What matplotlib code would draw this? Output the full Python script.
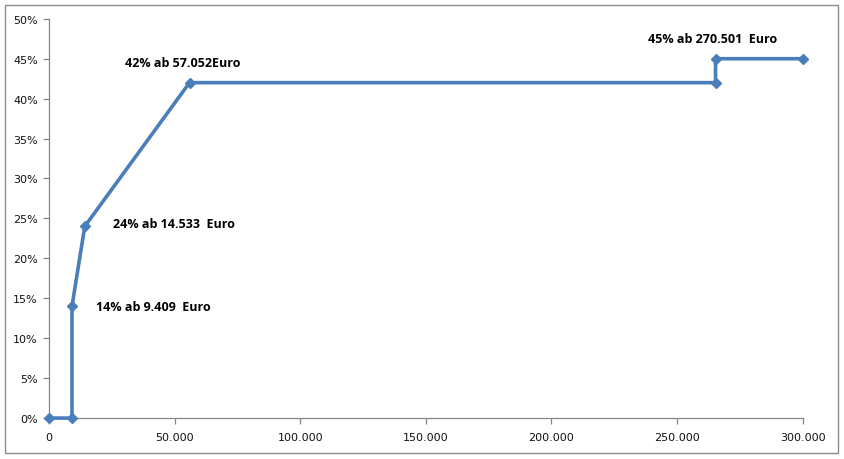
import matplotlib
matplotlib.use("Agg")
from matplotlib import pyplot as plt
from matplotlib.patches import Rectangle
from matplotlib.ticker import FuncFormatter, MultipleLocator

# income thresholds (Euro) and tax rates (%)
einkommen = [0, 9168, 9168, 14254, 55960, 265326, 265326, 300000]
steuersatz = [0, 0, 14, 24, 42, 42, 45, 45]

# annotations: text, x position, y position
labels = ["14% ab 9.409  Euro", "24% ab 14.533  Euro", "42% ab 57.052Euro", "45% ab 270.501  Euro"]
label_x = [18700, 25400, 30200, 238300]
label_y = [14.0, 24.4, 44.5, 47.5]

fig = plt.figure(figsize=(8.44, 4.60), dpi=100)
ax = fig.add_axes([0.058, 0.089, 0.893, 0.868])

# chart border like the excel chart area
fig.patches.append(Rectangle((5 / 844, 6 / 460), 833 / 844, 448 / 460, transform=fig.transFigure,
                             fill=False, edgecolor="#8c8c8c", linewidth=1.0))

ax.plot(einkommen, steuersatz, color="#4a7ebb", linewidth=2.6, marker="D", markersize=5.5,
        markeredgecolor="#4a7ebb", markerfacecolor="#4a7ebb", clip_on=False, zorder=3)

for t, x, y in zip(labels, label_x, label_y):
    ax.text(x, y, t, ha="left", va="center", fontsize=9, fontweight="bold",
            family="Open Sans", color="black")

ax.set_xlim(0, 300000)
ax.set_ylim(0, 50)
ax.xaxis.set_major_locator(MultipleLocator(50000))
ax.yaxis.set_major_locator(MultipleLocator(5))
ax.xaxis.set_major_formatter(FuncFormatter(lambda v, p: f"{int(v):,}".replace(",", ".")))
ax.yaxis.set_major_formatter(FuncFormatter(lambda v, p: f"{int(v)}%"))

for side in ["top", "right"]:
    ax.spines[side].set_visible(False)
for side in ["left", "bottom"]:
    ax.spines[side].set_color("#868686")
    ax.spines[side].set_linewidth(0.9)

ax.tick_params(axis="both", direction="out", length=4, width=0.9, color="#868686",
               labelsize=8, labelcolor="#111111", pad=4)
ax.tick_params(axis="x", pad=6)
for lab in ax.get_xticklabels() + ax.get_yticklabels():
    lab.set_family("DejaVu Sans")

fig.savefig("out.png", dpi=100)
